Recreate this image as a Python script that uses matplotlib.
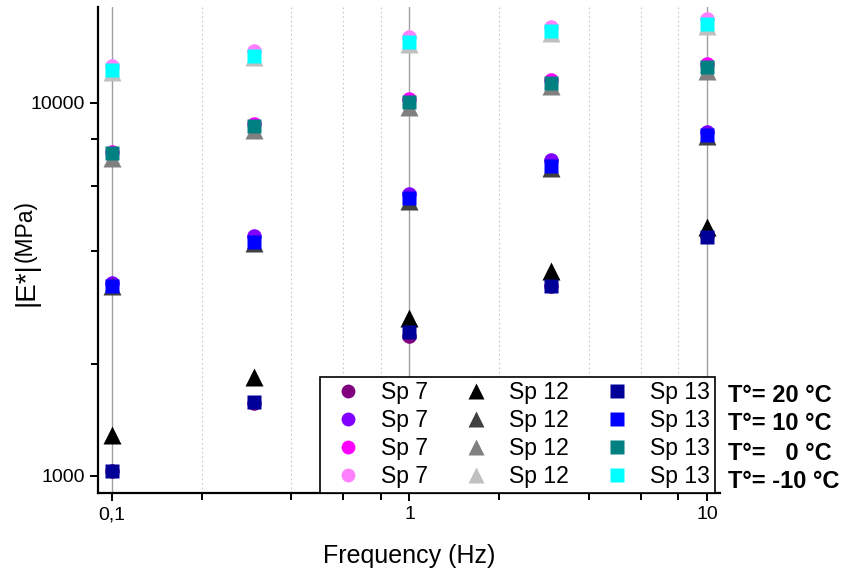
# Modulo complejo |E*| vs frecuencia, tres muestras a cuatro temperaturas
import numpy as np
import matplotlib
matplotlib.use("Agg")
import matplotlib.pyplot as plt
from matplotlib.ticker import FixedLocator, FixedFormatter, NullFormatter

plt.rcParams['font.family'] = ['Liberation Sans', 'DejaVu Sans']

freq = [0.1, 0.3, 1, 3, 10]
temps = ["T°= 20 °C", "T°= 10 °C", "T°=   0 °C", "T°= -10 °C"]

# Sp 7 (circulos)
sp7_t20 = [1030, 1570, 2370, 3230, 4400]
sp7_t10 = [3290, 4400, 5700, 7040, 8360]
sp7_t0 = [7390, 8780, 10250, 11530, 12720]
sp7_tm10 = [12570, 13780, 15030, 16000, 16790]

# Sp 12 (triangulos)
sp12_t20 = [1290, 1840, 2650, 3545, 4650]
sp12_t10 = [3230, 4200, 5470, 6690, 8160]
sp12_t0 = [7120, 8470, 9760, 11100, 12180]
sp12_tm10 = [12110, 13260, 14390, 15400, 16100]

# Sp 13 (cuadrados)
sp13_t20 = [1030, 1580, 2430, 3230, 4370]
sp13_t10 = [3230, 4240, 5560, 6780, 8230]
sp13_t0 = [7350, 8675, 10060, 11310, 12490]
sp13_tm10 = [12260, 13370, 14570, 15600, 16290]

sp7_colors = ["#800080", "#8000FF", "#FF00FF", "#FF80FF"]
sp12_colors = ["#000000", "#404040", "#808080", "#C0C0C0"]
sp13_colors = ["#000099", "#0000FF", "#008080", "#00FFFF"]

fig = plt.figure(figsize=(8.41, 5.70), dpi=100)
ax = fig.add_axes([0.1165, 0.135, 0.856 - 0.1165, 0.9877 - 0.135])

ax.set_xscale("log")
ax.set_yscale("log")
ax.set_xlim(0.0897, 11.06)
ax.set_ylim(900, 18080)

# rejilla vertical
for xv in [0.1, 1, 10]:
    ax.axvline(xv, color="#a0a0a0", lw=1.0, zorder=0)
for xv in [0.2, 0.4, 0.6, 0.8, 2, 4, 6, 8]:
    ax.axvline(xv, color="#c8c8c8", lw=0.8, ls=(0, (1.5, 2.5)), zorder=0)

handles = []
for ys, c in zip([sp7_t20, sp7_t10, sp7_t0, sp7_tm10], sp7_colors):
    h, = ax.plot(freq, ys, "o", color=c, ms=10.5, mec="none", label="Sp 7", zorder=3)
    handles.append(h)
for ys, c in zip([sp12_t20, sp12_t10, sp12_t0, sp12_tm10], sp12_colors):
    h, = ax.plot(freq, ys, "^", color=c, ms=12.5, mec="none", label="Sp 12", zorder=3)
    handles.append(h)
for ys, c in zip([sp13_t20, sp13_t10, sp13_t0, sp13_tm10], sp13_colors):
    h, = ax.plot(freq, ys, "s", color=c, ms=10.5, mec="none", label="Sp 13", zorder=3)
    handles.append(h)

# ejes
for s in ["top", "right"]:
    ax.spines[s].set_visible(False)
for s in ["left", "bottom"]:
    ax.spines[s].set_linewidth(1.6)

ax.xaxis.set_major_locator(FixedLocator([0.1, 1, 10]))
ax.xaxis.set_major_formatter(FixedFormatter(["0,1", "1", "10"]))
ax.xaxis.set_minor_locator(FixedLocator([0.2, 0.4, 0.6, 0.8, 2, 4, 6, 8]))
ax.xaxis.set_minor_formatter(NullFormatter())
ax.yaxis.set_major_locator(FixedLocator([1000, 10000]))
ax.yaxis.set_major_formatter(FixedFormatter(["1000", "10000"]))
ax.yaxis.set_minor_locator(FixedLocator([2000, 4000, 6000, 8000]))
ax.yaxis.set_minor_formatter(NullFormatter())
ax.tick_params(which="major", direction="out", length=6, width=1.4, labelsize=14)
ax.tick_params(which="minor", direction="out", length=5, width=1.4)

ax.set_xlabel("Frequency (Hz)", fontsize=18, labelpad=15)

fig.text(0.031, 1 - 284 / 570, "|E*|", rotation=90, fontsize=20, ha="center", va="center")
fig.text(0.030, 1 - 231 / 570, "(MPa)", rotation=90, fontsize=16.5, ha="center", va="center")

leg = ax.legend(handles=handles, ncol=3, loc="lower right",
                bbox_to_anchor=(0.992, 0.0), borderaxespad=0, fontsize=16.5,
                frameon=True, fancybox=False, edgecolor="black", framealpha=1,
                handlelength=2.0, handletextpad=0.45, columnspacing=1.1,
                labelspacing=0.22, borderpad=0.2, markerscale=0.95)
leg.get_frame().set_linewidth(1.2)

for i, t in enumerate(temps):
    fig.text(0.866, 1 - (395 + 29 * i) / 570, t, fontsize=17,
             fontweight="bold", ha="left", va="center")

fig.savefig("out.png", dpi=100)
